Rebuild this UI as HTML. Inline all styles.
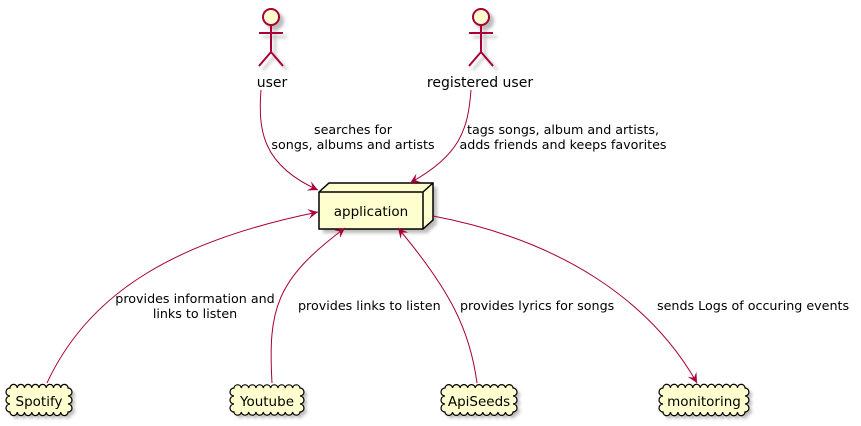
<!DOCTYPE html>
<html><head><meta charset="utf-8"><style>
html,body{margin:0;padding:0;background:#fff}
svg{display:block}
text{font-family:"DejaVu Sans","Liberation Sans",sans-serif;fill:#000}
</style></head><body>
<svg width="861" height="426" viewBox="0 0 861 426" xmlns="http://www.w3.org/2000/svg">
<defs>
<marker id="ar" markerWidth="12" markerHeight="10" refX="10" refY="5" orient="auto" markerUnits="userSpaceOnUse">
<path d="M0,0 L10,5 L0,10 L4,5 Z" fill="#A80036"/>
</marker>
<filter id="sh" x="-20%" y="-20%" width="150%" height="150%"><feGaussianBlur stdDeviation="1.5"/></filter>
</defs>

<g>
<g transform="translate(4,4)" stroke="#bbb" stroke-width="2" fill="#bbb" filter="url(#sh)">
<circle cx="271" cy="17" r="8"/><path d="M271 25 V52 M259 33 H283 M271 52 L259 66 M271 52 L283 66" fill="none"/>
</g>
<circle cx="271" cy="17" r="8" fill="#FEFECE" stroke="#A80036" stroke-width="2"/>
<path d="M271 25 V52 M259 33 H283 M271 52 L259 66 M271 52 L283 66" stroke="#A80036" stroke-width="2" fill="none"/>
</g>
<g transform="translate(210,0)">
<g transform="translate(4,4)" stroke="#bbb" stroke-width="2" fill="#bbb" filter="url(#sh)">
<circle cx="271" cy="17" r="8"/><path d="M271 25 V52 M259 33 H283 M271 52 L259 66 M271 52 L283 66" fill="none"/>
</g>
<circle cx="271" cy="17" r="8" fill="#FEFECE" stroke="#A80036" stroke-width="2"/>
<path d="M271 25 V52 M259 33 H283 M271 52 L259 66 M271 52 L283 66" stroke="#A80036" stroke-width="2" fill="none"/>
</g>
<text x="272" y="87" font-size="14" text-anchor="middle">user</text>
<text x="480" y="87" font-size="14" text-anchor="middle">registered user</text>

<g transform="translate(4,4)" filter="url(#sh)" fill="#bbb"><path d="M319 192 L329 183 L433 183 L433 220 L423 229 L319 229 Z"/></g>
<path d="M319 192 L329 183 L433 183 L433 220 L423 229 L319 229 Z" fill="#FEFECE" stroke="#000" stroke-width="1.5"/>
<path d="M319 192 H423 V229 M423 192 L433 183" fill="none" stroke="#000" stroke-width="1.5"/>
<text x="371" y="216" font-size="13.5" text-anchor="middle">application</text>

<g fill="none" stroke="#A80036" stroke-width="1">
<path d="M261 90 C258 130 262 165 318 190" marker-end="url(#ar)"/>
<path d="M471 90 C468 130 460 155 410 183" marker-end="url(#ar)"/>
<path d="M47 383 C90 290 180 240 318 212" marker-end="url(#ar)"/>
<path d="M272 383 C268 310 275 280 345 228" marker-end="url(#ar)"/>
<path d="M477 383 C470 330 450 290 398 228" marker-end="url(#ar)"/>
<path d="M433 216 C560 240 650 300 697 383" marker-end="url(#ar)"/>
</g>

<g font-size="12.7" text-anchor="middle">
<text x="353" y="134">searches for</text>
<text x="353" y="149">songs, albums and artists</text>
<text x="563" y="134">tags songs, album and artists,</text>
<text x="563" y="149">adds friends and keeps favorites</text>
<text x="195" y="303">provides information and</text>
<text x="195" y="318">links to listen</text>
</g>
<g font-size="12.7">
<text x="298" y="310">provides links to listen</text>
<text x="460" y="310">provides lyrics for songs</text>
<text x="657" y="310">sends Logs of occuring events</text>
</g>

<g>
<path transform="translate(3,3)" filter="url(#sh)" fill="#bbb" d="M10,388 a3.6,3.6 0 0 1 7.25 0 a3.6,3.6 0 0 1 7.25 0 a3.6,3.6 0 0 1 7.25 0 a3.6,3.6 0 0 1 7.25 0 a3.6,3.6 0 0 1 7.25 0 a3.6,3.6 0 0 1 7.25 0 a3.6,3.6 0 0 1 7.25 0 a3.6,3.6 0 0 1 7.25 0 a4,4 0 0 1 0 8 a4,4 0 0 1 0 8 a4,4 0 0 1 0 8 a3.6,3.6 0 0 1 -7.25 0 a3.6,3.6 0 0 1 -7.25 0 a3.6,3.6 0 0 1 -7.25 0 a3.6,3.6 0 0 1 -7.25 0 a3.6,3.6 0 0 1 -7.25 0 a3.6,3.6 0 0 1 -7.25 0 a3.6,3.6 0 0 1 -7.25 0 a3.6,3.6 0 0 1 -7.25 0 a4,4 0 0 1 0 -8 a4,4 0 0 1 0 -8 a4,4 0 0 1 0 -8 Z"/>
<path fill="#FEFECE" stroke="#000" stroke-width="1.2" d="M10,388 a3.6,3.6 0 0 1 7.25 0 a3.6,3.6 0 0 1 7.25 0 a3.6,3.6 0 0 1 7.25 0 a3.6,3.6 0 0 1 7.25 0 a3.6,3.6 0 0 1 7.25 0 a3.6,3.6 0 0 1 7.25 0 a3.6,3.6 0 0 1 7.25 0 a3.6,3.6 0 0 1 7.25 0 a4,4 0 0 1 0 8 a4,4 0 0 1 0 8 a4,4 0 0 1 0 8 a3.6,3.6 0 0 1 -7.25 0 a3.6,3.6 0 0 1 -7.25 0 a3.6,3.6 0 0 1 -7.25 0 a3.6,3.6 0 0 1 -7.25 0 a3.6,3.6 0 0 1 -7.25 0 a3.6,3.6 0 0 1 -7.25 0 a3.6,3.6 0 0 1 -7.25 0 a3.6,3.6 0 0 1 -7.25 0 a4,4 0 0 1 0 -8 a4,4 0 0 1 0 -8 a4,4 0 0 1 0 -8 Z"/>
</g>
<g>
<path transform="translate(3,3)" filter="url(#sh)" fill="#bbb" d="M234,388 a3.7,3.7 0 0 1 7.33 0 a3.7,3.7 0 0 1 7.33 0 a3.7,3.7 0 0 1 7.33 0 a3.7,3.7 0 0 1 7.33 0 a3.7,3.7 0 0 1 7.33 0 a3.7,3.7 0 0 1 7.33 0 a3.7,3.7 0 0 1 7.33 0 a3.7,3.7 0 0 1 7.33 0 a3.7,3.7 0 0 1 7.33 0 a4,4 0 0 1 0 8 a4,4 0 0 1 0 8 a4,4 0 0 1 0 8 a3.7,3.7 0 0 1 -7.33 0 a3.7,3.7 0 0 1 -7.33 0 a3.7,3.7 0 0 1 -7.33 0 a3.7,3.7 0 0 1 -7.33 0 a3.7,3.7 0 0 1 -7.33 0 a3.7,3.7 0 0 1 -7.33 0 a3.7,3.7 0 0 1 -7.33 0 a3.7,3.7 0 0 1 -7.33 0 a3.7,3.7 0 0 1 -7.33 0 a4,4 0 0 1 0 -8 a4,4 0 0 1 0 -8 a4,4 0 0 1 0 -8 Z"/>
<path fill="#FEFECE" stroke="#000" stroke-width="1.2" d="M234,388 a3.7,3.7 0 0 1 7.33 0 a3.7,3.7 0 0 1 7.33 0 a3.7,3.7 0 0 1 7.33 0 a3.7,3.7 0 0 1 7.33 0 a3.7,3.7 0 0 1 7.33 0 a3.7,3.7 0 0 1 7.33 0 a3.7,3.7 0 0 1 7.33 0 a3.7,3.7 0 0 1 7.33 0 a3.7,3.7 0 0 1 7.33 0 a4,4 0 0 1 0 8 a4,4 0 0 1 0 8 a4,4 0 0 1 0 8 a3.7,3.7 0 0 1 -7.33 0 a3.7,3.7 0 0 1 -7.33 0 a3.7,3.7 0 0 1 -7.33 0 a3.7,3.7 0 0 1 -7.33 0 a3.7,3.7 0 0 1 -7.33 0 a3.7,3.7 0 0 1 -7.33 0 a3.7,3.7 0 0 1 -7.33 0 a3.7,3.7 0 0 1 -7.33 0 a3.7,3.7 0 0 1 -7.33 0 a4,4 0 0 1 0 -8 a4,4 0 0 1 0 -8 a4,4 0 0 1 0 -8 Z"/>
</g>
<g>
<path transform="translate(3,3)" filter="url(#sh)" fill="#bbb" d="M445,388 a3.8,3.8 0 0 1 7.56 0 a3.8,3.8 0 0 1 7.56 0 a3.8,3.8 0 0 1 7.56 0 a3.8,3.8 0 0 1 7.56 0 a3.8,3.8 0 0 1 7.56 0 a3.8,3.8 0 0 1 7.56 0 a3.8,3.8 0 0 1 7.56 0 a3.8,3.8 0 0 1 7.56 0 a3.8,3.8 0 0 1 7.56 0 a4,4 0 0 1 0 8 a4,4 0 0 1 0 8 a4,4 0 0 1 0 8 a3.8,3.8 0 0 1 -7.56 0 a3.8,3.8 0 0 1 -7.56 0 a3.8,3.8 0 0 1 -7.56 0 a3.8,3.8 0 0 1 -7.56 0 a3.8,3.8 0 0 1 -7.56 0 a3.8,3.8 0 0 1 -7.56 0 a3.8,3.8 0 0 1 -7.56 0 a3.8,3.8 0 0 1 -7.56 0 a3.8,3.8 0 0 1 -7.56 0 a4,4 0 0 1 0 -8 a4,4 0 0 1 0 -8 a4,4 0 0 1 0 -8 Z"/>
<path fill="#FEFECE" stroke="#000" stroke-width="1.2" d="M445,388 a3.8,3.8 0 0 1 7.56 0 a3.8,3.8 0 0 1 7.56 0 a3.8,3.8 0 0 1 7.56 0 a3.8,3.8 0 0 1 7.56 0 a3.8,3.8 0 0 1 7.56 0 a3.8,3.8 0 0 1 7.56 0 a3.8,3.8 0 0 1 7.56 0 a3.8,3.8 0 0 1 7.56 0 a3.8,3.8 0 0 1 7.56 0 a4,4 0 0 1 0 8 a4,4 0 0 1 0 8 a4,4 0 0 1 0 8 a3.8,3.8 0 0 1 -7.56 0 a3.8,3.8 0 0 1 -7.56 0 a3.8,3.8 0 0 1 -7.56 0 a3.8,3.8 0 0 1 -7.56 0 a3.8,3.8 0 0 1 -7.56 0 a3.8,3.8 0 0 1 -7.56 0 a3.8,3.8 0 0 1 -7.56 0 a3.8,3.8 0 0 1 -7.56 0 a3.8,3.8 0 0 1 -7.56 0 a4,4 0 0 1 0 -8 a4,4 0 0 1 0 -8 a4,4 0 0 1 0 -8 Z"/>
</g>
<g>
<path transform="translate(3,3)" filter="url(#sh)" fill="#bbb" d="M663,388 a3.7,3.7 0 0 1 7.45 0 a3.7,3.7 0 0 1 7.45 0 a3.7,3.7 0 0 1 7.45 0 a3.7,3.7 0 0 1 7.45 0 a3.7,3.7 0 0 1 7.45 0 a3.7,3.7 0 0 1 7.45 0 a3.7,3.7 0 0 1 7.45 0 a3.7,3.7 0 0 1 7.45 0 a3.7,3.7 0 0 1 7.45 0 a3.7,3.7 0 0 1 7.45 0 a3.7,3.7 0 0 1 7.45 0 a4,4 0 0 1 0 8 a4,4 0 0 1 0 8 a4,4 0 0 1 0 8 a3.7,3.7 0 0 1 -7.45 0 a3.7,3.7 0 0 1 -7.45 0 a3.7,3.7 0 0 1 -7.45 0 a3.7,3.7 0 0 1 -7.45 0 a3.7,3.7 0 0 1 -7.45 0 a3.7,3.7 0 0 1 -7.45 0 a3.7,3.7 0 0 1 -7.45 0 a3.7,3.7 0 0 1 -7.45 0 a3.7,3.7 0 0 1 -7.45 0 a3.7,3.7 0 0 1 -7.45 0 a3.7,3.7 0 0 1 -7.45 0 a4,4 0 0 1 0 -8 a4,4 0 0 1 0 -8 a4,4 0 0 1 0 -8 Z"/>
<path fill="#FEFECE" stroke="#000" stroke-width="1.2" d="M663,388 a3.7,3.7 0 0 1 7.45 0 a3.7,3.7 0 0 1 7.45 0 a3.7,3.7 0 0 1 7.45 0 a3.7,3.7 0 0 1 7.45 0 a3.7,3.7 0 0 1 7.45 0 a3.7,3.7 0 0 1 7.45 0 a3.7,3.7 0 0 1 7.45 0 a3.7,3.7 0 0 1 7.45 0 a3.7,3.7 0 0 1 7.45 0 a3.7,3.7 0 0 1 7.45 0 a3.7,3.7 0 0 1 7.45 0 a4,4 0 0 1 0 8 a4,4 0 0 1 0 8 a4,4 0 0 1 0 8 a3.7,3.7 0 0 1 -7.45 0 a3.7,3.7 0 0 1 -7.45 0 a3.7,3.7 0 0 1 -7.45 0 a3.7,3.7 0 0 1 -7.45 0 a3.7,3.7 0 0 1 -7.45 0 a3.7,3.7 0 0 1 -7.45 0 a3.7,3.7 0 0 1 -7.45 0 a3.7,3.7 0 0 1 -7.45 0 a3.7,3.7 0 0 1 -7.45 0 a3.7,3.7 0 0 1 -7.45 0 a3.7,3.7 0 0 1 -7.45 0 a4,4 0 0 1 0 -8 a4,4 0 0 1 0 -8 a4,4 0 0 1 0 -8 Z"/>
</g>
<g font-size="13.5" text-anchor="middle">
<text x="39" y="406">Spotify</text>
<text x="267" y="406">Youtube</text>
<text x="479" y="406">ApiSeeds</text>
<text x="704" y="406">monitoring</text>
</g>
</svg>
</body></html>
